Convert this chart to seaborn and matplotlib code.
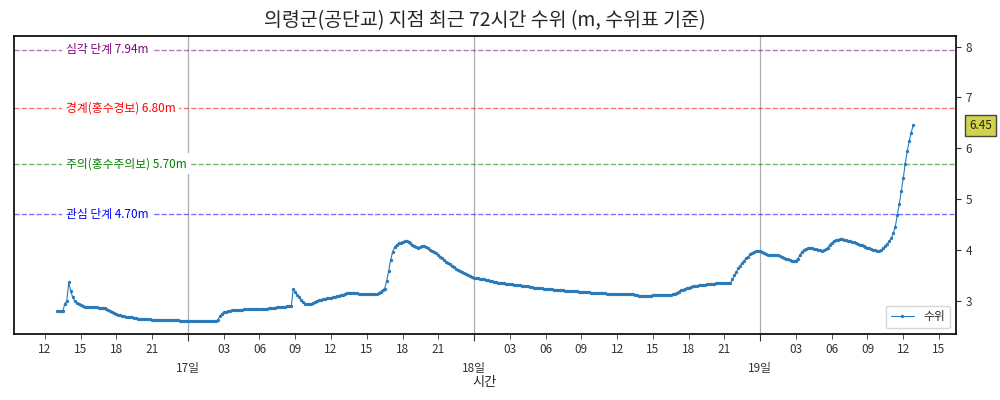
import numpy as np
import pandas as pd
import matplotlib
matplotlib.use("Agg")
import matplotlib.pyplot as plt
import matplotlib.dates as mdates
import matplotlib.transforms as mtransforms
import seaborn as sns

# ---- data (10-minute water levels, m) ----
start_time = "2025-07-16 13:00"
level_16 = [
    2.79, 2.79, 2.79, 2.79, 2.94, 2.99,
    3.36, 3.19, 3.07, 2.99, 2.96, 2.94,
    2.92, 2.90, 2.88, 2.87, 2.87, 2.87,
    2.87, 2.87, 2.87, 2.86, 2.85, 2.85,
    2.85, 2.83, 2.81, 2.79, 2.77, 2.75,
    2.73, 2.72, 2.71, 2.70, 2.69, 2.68,
    2.68, 2.67, 2.67, 2.66, 2.66, 2.65,
    2.65, 2.65, 2.64, 2.64, 2.64, 2.64,
    2.63, 2.63, 2.63, 2.63, 2.63, 2.62,
    2.62, 2.62, 2.62, 2.62, 2.62, 2.62,
    2.62, 2.62, 2.61, 2.61, 2.61, 2.61,
]
level_17 = [
    2.61, 2.60, 2.60, 2.60, 2.60, 2.60,
    2.60, 2.60, 2.60, 2.60, 2.60, 2.60,
    2.60, 2.60, 2.60, 2.62, 2.69, 2.74,
    2.77, 2.78, 2.79, 2.80, 2.81, 2.81,
    2.81, 2.82, 2.82, 2.82, 2.83, 2.83,
    2.83, 2.83, 2.83, 2.83, 2.83, 2.83,
    2.83, 2.84, 2.84, 2.84, 2.84, 2.85,
    2.86, 2.86, 2.86, 2.87, 2.87, 2.87,
    2.88, 2.88, 2.89, 2.89, 2.89, 3.24,
    3.18, 3.12, 3.07, 3.01, 2.97, 2.93,
    2.93, 2.93, 2.94, 2.96, 2.98, 3.00,
    3.01, 3.02, 3.03, 3.04, 3.05, 3.05,
    3.06, 3.07, 3.08, 3.09, 3.10, 3.11,
    3.12, 3.14, 3.15, 3.16, 3.16, 3.16,
    3.16, 3.15, 3.14, 3.13, 3.13, 3.13,
    3.13, 3.13, 3.13, 3.13, 3.13, 3.13,
    3.15, 3.18, 3.21, 3.24, 3.39, 3.58,
    3.80, 3.96, 4.05, 4.10, 4.13, 4.14,
    4.16, 4.17, 4.17, 4.16, 4.13, 4.10,
    4.07, 4.05, 4.04, 4.06, 4.08, 4.07,
    4.05, 4.03, 4.00, 3.98, 3.95, 3.93,
    3.90, 3.87, 3.84, 3.80, 3.77, 3.74,
    3.72, 3.69, 3.66, 3.63, 3.61, 3.59,
    3.57, 3.55, 3.53, 3.51, 3.49, 3.47,
]
level_18 = [
    3.45, 3.44, 3.44, 3.43, 3.42, 3.42,
    3.41, 3.40, 3.39, 3.38, 3.37, 3.36,
    3.35, 3.35, 3.34, 3.34, 3.33, 3.33,
    3.32, 3.32, 3.31, 3.31, 3.30, 3.30,
    3.29, 3.29, 3.28, 3.28, 3.27, 3.27,
    3.26, 3.26, 3.25, 3.25, 3.25, 3.24,
    3.24, 3.23, 3.23, 3.23, 3.22, 3.22,
    3.22, 3.21, 3.21, 3.21, 3.20, 3.20,
    3.20, 3.19, 3.19, 3.19, 3.19, 3.18,
    3.18, 3.18, 3.17, 3.17, 3.17, 3.16,
    3.16, 3.16, 3.16, 3.15, 3.15, 3.15,
    3.15, 3.14, 3.14, 3.14, 3.14, 3.13,
    3.13, 3.13, 3.13, 3.13, 3.13, 3.13,
    3.13, 3.13, 3.13, 3.12, 3.12, 3.10,
    3.10, 3.10, 3.10, 3.10, 3.10, 3.10,
    3.12, 3.12, 3.12, 3.12, 3.12, 3.12,
    3.12, 3.12, 3.12, 3.12, 3.13, 3.14,
    3.16, 3.18, 3.21, 3.22, 3.23, 3.25,
    3.26, 3.27, 3.28, 3.28, 3.29, 3.30,
    3.30, 3.31, 3.31, 3.32, 3.32, 3.33,
    3.33, 3.33, 3.34, 3.34, 3.34, 3.34,
    3.35, 3.35, 3.35, 3.35, 3.42, 3.50,
    3.57, 3.64, 3.69, 3.75, 3.79, 3.84,
    3.87, 3.91, 3.93, 3.96, 3.97, 3.98,
]
level_19 = [
    3.97, 3.95, 3.93, 3.91, 3.89, 3.90,
    3.90, 3.90, 3.90, 3.89, 3.88, 3.86,
    3.85, 3.83, 3.82, 3.80, 3.79, 3.78,
    3.79, 3.83, 3.90, 3.96, 4.00, 4.02,
    4.03, 4.03, 4.03, 4.02, 4.01, 3.99,
    3.99, 3.98, 3.99, 4.01, 4.04, 4.10,
    4.14, 4.17, 4.19, 4.20, 4.21, 4.21,
    4.20, 4.19, 4.18, 4.17, 4.16, 4.15,
    4.13, 4.12, 4.10, 4.09, 4.07, 4.06,
    4.04, 4.03, 4.01, 4.00, 3.99, 3.98,
    3.98, 4.00, 4.03, 4.07, 4.12, 4.17,
    4.23, 4.33, 4.46, 4.68, 4.90, 5.16,
    5.41, 5.70, 5.94, 6.14, 6.31, 6.45,
]

threshold_values = [7.94, 6.80, 5.70, 4.70]
threshold_labels = ["심각 단계 7.94m", "경계(홍수경보) 6.80m", "주의(홍수주의보) 5.70m", "관심 단계 4.70m"]
threshold_colors = ["purple", "red", "green", "blue"]

title = "의령군(공단교) 지점 최근 72시간 수위 (m, 수위표 기준)"
series_label = "수위"
xlabel = "시간"

# ---- build frame ----
levels = level_16 + level_17 + level_18 + level_19
times = pd.date_range(start_time, periods=len(levels), freq="10min")
df = pd.DataFrame({"time": times, "level": levels})

sns.set_style("white")
plt.rcParams["font.family"] = ["Noto Sans CJK KR", "DejaVu Sans"]
plt.rcParams["axes.unicode_minus"] = False

fig, ax = plt.subplots(figsize=(10, 4), dpi=100)
fig.subplots_adjust(left=0.014, right=0.956, top=0.91, bottom=0.165)

sns.lineplot(data=df, x="time", y="level", ax=ax, color="#2a7ab9",
             linewidth=0.8, marker="o", markersize=2.4, markeredgewidth=0,
             label=series_label, zorder=3)

trans = mtransforms.blended_transform_factory(ax.transAxes, ax.transData)
for v, lab, c in zip(threshold_values, threshold_labels, threshold_colors):
    ax.axhline(v, color=c, linestyle="--", linewidth=1, alpha=0.55, zorder=1)
    ax.text(0.055, v, lab, color=c, fontsize=8.5, va="center", ha="left",
            transform=trans, zorder=4,
            bbox=dict(boxstyle="square,pad=0.3", facecolor="white", edgecolor="none"))

ax.set_ylim(2.345, 8.21)
ax.yaxis.tick_right()
ax.set_yticks([3, 4, 5, 6, 7, 8])
ax.set_ylabel("")

ax.xaxis.set_major_locator(mdates.DayLocator())
ax.xaxis.set_major_formatter(mdates.DateFormatter("%d일"))
ax.xaxis.set_minor_locator(mdates.HourLocator(byhour=range(0, 24, 3)))
ax.xaxis.set_minor_formatter(mdates.DateFormatter("%H"))
ax.tick_params(axis="x", which="major", pad=15, labelsize=8.5, length=5)
ax.tick_params(axis="x", which="minor", pad=3, labelsize=8.5, length=3.5)
ax.tick_params(axis="y", labelsize=8.5, length=3.5)
ax.tick_params(axis="both", which="both", bottom=True, right=True, colors="#333333")
ax.grid(False)
ax.grid(True, which="major", axis="x", color="#999999", linewidth=0.9, alpha=0.8)
ax.set_xlabel(xlabel, fontsize=9.5, labelpad=1)
for sp in ax.spines.values():
    sp.set_color("black")
    sp.set_linewidth(1.2)

ax.set_title(title, fontsize=14, pad=7)

last = levels[-1]
ax.text(1.026, last, f"{last:.2f}", transform=trans, ha="center", va="center",
        fontsize=8.5, color="#222222",
        bbox=dict(boxstyle="square,pad=0.35", facecolor="#d2d24b", edgecolor="#444444"))

ax.legend(loc="lower right", fontsize=8.5, frameon=True)

fig.savefig("out.png", dpi=100)
